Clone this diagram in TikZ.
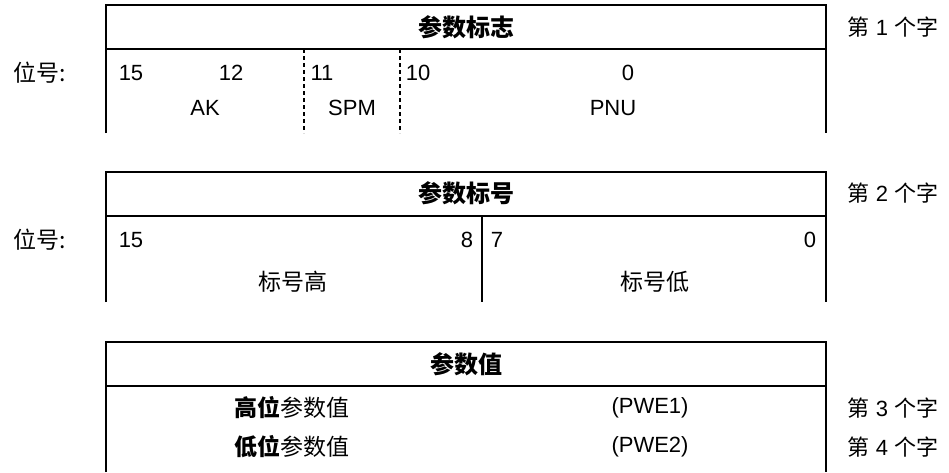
\documentclass[tikz,border=0pt]{standalone}
\usepackage{fontspec}
\setmainfont{Liberation Sans}
\newfontfamily\cjk{Noto Sans CJK SC}
\tikzset{
    frame/.style={line width=1.5pt},
    hd/.style={font=\cjk\bfseries\fontsize{24}{28}\selectfont},
    cn/.style={font=\cjk\fontsize{23}{27}\selectfont},
    num/.style={font=\fontsize{22}{26}\selectfont}
}
\begin{document}
\begin{tikzpicture}[x=1pt, y=-1pt]
    \useasboundingbox (0,0) rectangle (949,472);

    % 1. Khung thứ nhất: 参数标志
    \draw[frame] (106,133) -- (106,5) -- (826,5) -- (826,133);
    \draw[frame] (106,49) -- (826,49);
    \draw[frame, dash pattern=on 4pt off 3pt] (304,49) -- (304,133);
    \draw[frame, dash pattern=on 4pt off 3pt] (400,49) -- (400,133);

    \node[hd] (hdA) at (466,27) {参数标志};
    \node[num] (wordA) at (893,27) {{\cjk 第} 1 {\cjk 个字}};
    \node[cn] (posA) at (40,73) {位号:};
    \node[num] (bA15) at (131,73) {15};
    \node[num] (bA12) at (231,73) {12};
    \node[num] (bA11) at (322,73) {11};
    \node[num] (bA10) at (418,73) {10};
    \node[num] (bA0) at (628,73) {0};
    \node[num] (ak) at (205,108) {AK};
    \node[num] (spm) at (352,108) {SPM};
    \node[num] (pnu) at (613,108) {PNU};

    % 2. Khung thứ hai: 参数标号
    \draw[frame] (106,302) -- (106,172) -- (826,172) -- (826,302);
    \draw[frame] (106,216) -- (826,216);
    \draw[frame] (482,216) -- (482,302);

    \node[hd] (hdB) at (466,193) {参数标号};
    \node[num] (wordB) at (893,193) {{\cjk 第} 2 {\cjk 个字}};
    \node[cn] (posB) at (40,240) {位号:};
    \node[num] (bB15) at (131,240) {15};
    \node[num] (bB8) at (467,240) {8};
    \node[num] (bB7) at (497,240) {7};
    \node[num] (bB0) at (810,240) {0};
    \node[cn] (hi) at (293,282) {标号高};
    \node[cn] (lo) at (655,282) {标号低};

    % 3. Khung thứ ba: 参数值
    \draw[frame] (106,472) -- (106,342) -- (826,342) -- (826,472);
    \draw[frame] (106,386) -- (826,386);

    \node[hd] (hdC) at (466,364) {参数值};
    \node[cn] (pweHi) at (292,408) {\textbf{高位}参数值};
    \node[cn] (pweLo) at (292,447) {\textbf{低位}参数值};
    \node[num] (pweA) at (650,408) {(PWE1)};
    \node[num] (pweB) at (650,447) {(PWE2)};
    \node[num] (wordC) at (893,408) {{\cjk 第} 3 {\cjk 个字}};
    \node[num] (wordD) at (893,447) {{\cjk 第} 4 {\cjk 个字}};
\end{tikzpicture}
\end{document}
